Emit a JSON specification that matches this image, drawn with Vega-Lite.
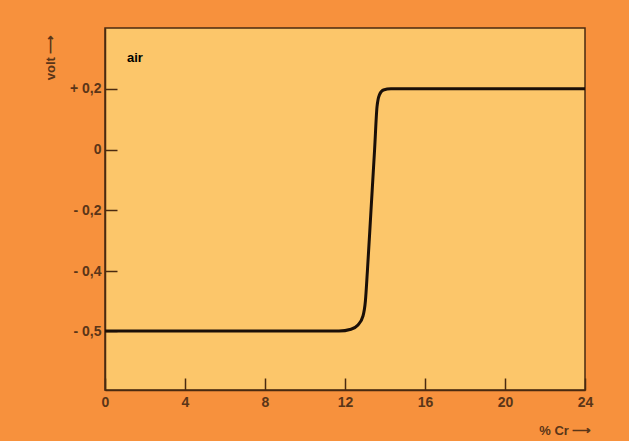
{
  "$schema": "https://vega.github.io/schema/vega-lite/v6.json",
  "width": 480,
  "height": 362,
  "autosize": {"type": "none"},
  "padding": {"left": 105, "top": 28, "right": 44, "bottom": 51},
  "background": "#F7913D",
  "config": {
    "view": {"fill": "#FCC66A", "stroke": "#4a2a10", "strokeWidth": 1.5},
    "axis": {
      "labelFont": "Liberation Sans",
      "labelFontSize": 14,
      "labelFontWeight": "bold",
      "labelColor": "#5a3518",
      "labelFlush": false,
      "titleFont": "Liberation Sans",
      "titleFontSize": 13,
      "titleFontWeight": "bold",
      "titleColor": "#5a3518",
      "domainColor": "#4a2a10",
      "domainWidth": 1.5,
      "tickColor": "#4a2a10",
      "tickWidth": 1.5,
      "grid": false
    }
  },
  "encoding": {
    "x": {
      "field": "cr",
      "type": "quantitative",
      "scale": {"domain": [0, 24], "nice": false, "zero": false},
      "axis": {
        "values": [0, 4, 8, 12, 16, 20, 24],
        "tickSize": -12,
        "labelPadding": 17,
        "title": "% Cr ⟶",
        "titleAnchor": "end",
        "titleAlign": "right",
        "titleBaseline": "middle",
        "titleX": 486,
        "titleY": 40
      }
    },
    "y": {
      "field": "volt",
      "type": "quantitative",
      "scale": {"domain": [-0.6, -0.5, -0.4, 0.4], "range": [362, 303, 243, 0], "nice": false, "zero": false},
      "axis": {
        "values": [-0.5, -0.4, -0.2, 0, 0.2],
        "tickSize": -12,
        "labelPadding": 16,
        "labelExpr": "datum.value > 0.001 ? '+ ' + replace(format(datum.value, '.1f'), '.', ',') : (datum.value < -0.001 ? '- ' + replace(format(-datum.value, '.1f'), '.', ',') : '0')",
        "title": "volt ⟶",
        "titleAlign": "right",
        "titleBaseline": "middle",
        "titleAngle": -90,
        "titleX": -55,
        "titleY": 6
      }
    }
  },
  "layer": [
    {
      "data": {
        "values": [
          {"cr": 0, "volt": -0.5},
          {"cr": 4, "volt": -0.5},
          {"cr": 8, "volt": -0.5},
          {"cr": 11.7, "volt": -0.5},
          {"cr": 12.3, "volt": -0.497},
          {"cr": 12.65, "volt": -0.49},
          {"cr": 12.9, "volt": -0.475},
          {"cr": 13.02, "volt": -0.45},
          {"cr": 13.12, "volt": -0.4},
          {"cr": 13.3, "volt": -0.2},
          {"cr": 13.48, "volt": 0.0},
          {"cr": 13.6, "volt": 0.14},
          {"cr": 13.72, "volt": 0.18},
          {"cr": 13.92, "volt": 0.196},
          {"cr": 14.3, "volt": 0.2},
          {"cr": 24, "volt": 0.2}
        ]
      },
      "mark": {"type": "line", "interpolate": "monotone", "color": "#1a0f08", "strokeWidth": 3, "clip": true}
    },
    {
      "data": {"values": [{"cr": 1.1, "volt": 0.3, "label": "air"}]},
      "mark": {"type": "text", "align": "left", "baseline": "middle", "font": "Liberation Sans", "fontWeight": "bold", "fontSize": 13, "color": "#000000"},
      "encoding": {"text": {"field": "label"}}
    }
  ]
}
